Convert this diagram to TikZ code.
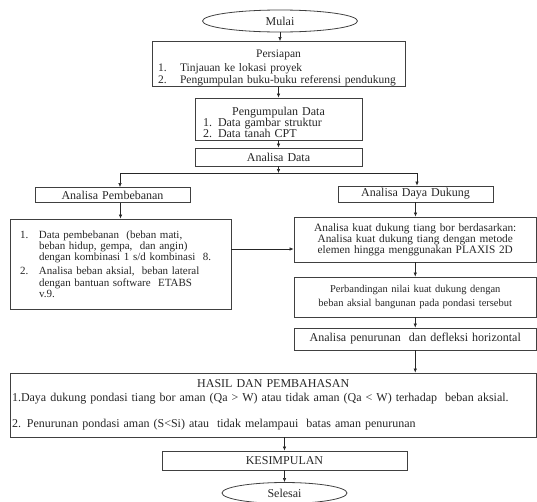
\documentclass[tikz,border=0pt]{standalone}
\usepackage{fontspec}
\setmainfont{Liberation Serif}
\usetikzlibrary{arrows.meta,shapes.geometric}

\begin{document}
\begin{tikzpicture}[x=1pt,y=-1pt,
    every node/.style={draw=black!75,line width=0.8pt,inner sep=0pt,text=black!85,
      font=\fontsize{12}{12.5}\selectfont},
    box/.style={rectangle,align=center},
    oval/.style={ellipse},
    arr/.style={-{Latex[length=4pt,width=3.5pt]},black!85,line width=0.6pt}]
    \useasboundingbox (0,0) rectangle (537,501);

    \node[oval,minimum width=155pt,minimum height=22pt] (mulai) at (280,21) {Mulai};
    \node[box,align=left,text width=253pt,minimum height=45pt,
          font=\fontsize{11.5}{12.5}\selectfont] (prep) at (278.5,64)
      {\rule{0pt}{16pt}\makebox[253pt]{Persiapan}\\[1.5pt]
       \hspace*{6pt}\makebox[22pt][l]{1.}Tinjauan ke lokasi proyek\\[-0.5pt]
       \hspace*{6pt}\makebox[22pt][l]{2.}Pengumpulan buku-buku referensi pendukung};
    \node[box,align=left,text width=167pt,minimum height=42pt] (peng) at (278.5,119)
      {\rule{0pt}{16pt}\makebox[167pt]{Pengumpulan Data}\\[-1.5pt]
       \hspace*{8pt}1. Data gambar struktur\\[-1.5pt]
       \hspace*{8pt}2. Data tanah CPT};
    \node[box,text width=167pt,minimum height=18pt] (data) at (278.5,157) {Analisa Data};

    \coordinate (sl) at (120,173);
    \coordinate (sr) at (417,173);
    \coordinate (lv) at (0,249);

    % kolom kiri
    \node[box,text width=155pt,minimum height=15pt] (pemb) at (112.5,195) {Analisa Pembebanan};
    \node[box,align=left,text width=221pt,minimum height=90pt,
          font=\fontsize{11}{12}\selectfont] (detail) at (120.5,264)
      {\hspace*{10pt}\makebox[19pt][l]{1.}Data pembebanan\ \ (beban mati,\\[-1pt]
       \hspace*{29pt}beban hidup, gempa,\ \ dan angin)\\[-1pt]
       \hspace*{29pt}dengan kombinasi 1 s/d kombinasi\ \ 8.\\[2pt]
       \hspace*{10pt}\makebox[19pt][l]{2.}Analisa beban aksial,\ \ beban lateral\\
       \hspace*{29pt}dengan bantuan software\ \ ETABS\\[-1pt]
       \hspace*{29pt}v.9.};

    % kolom kanan
    \node[box,text width=155pt,minimum height=16pt] (daya) at (415.5,194) {Analisa Daya Dukung};
    \node[box,text width=242.5pt,minimum height=45pt,
          font=\fontsize{11.3}{12}\selectfont] (kuat) at (415.25,239.5)
      {Analisa kuat dukung tiang bor berdasarkan:\\[-1pt]
       Analisa kuat dukung tiang dengan metode\\[-1pt]
       elemen hingga menggunakan PLAXIS 2D};
    \node[box,text width=242.5pt,minimum height=40pt,
          font=\fontsize{10.5}{12}\selectfont] (band) at (415.25,297)
      {Perbandingan nilai kuat dukung dengan\\[2pt]
       beban aksial bangunan pada pondasi tersebut};
    \node[box,text width=242.5pt,minimum height=22pt] (turun) at (415.25,339)
      {Analisa penurunan\ \ dan defleksi horizontal};

    \node[box,align=left,text width=526.5pt,minimum height=64pt] (hasil) at (273.25,405)
      {\makebox[526.5pt]{HASIL DAN PEMBAHASAN}\\[1.5pt]
       \hspace*{2pt}1.Daya dukung pondasi tiang bor aman (Qa > W) atau tidak aman (Qa < W) terhadap\ \ beban aksial.\\[13.5pt]
       \hspace*{2pt}2. Penurunan pondasi aman (S<Si) atau\ \ tidak melampaui\ \ batas aman penurunan};
    \node[box,text width=245pt,minimum height=19pt] (kes) at (284.5,460.5) {KESIMPULAN};
    \node[oval,minimum width=125pt,minimum height=21pt] (selesai) at (284.5,493) {Selesai};

    \draw[arr] (mulai.south) -- (mulai.south |- prep.north);
    \draw[arr] (prep) -- (peng);
    \draw[arr] (peng) -- (data);
    \draw[arr] (data.south) -- (data.south |- sl);
    \draw[black!85,line width=0.6pt] (sl) -- (sr);
    \draw[arr] (sl) -- (sl |- pemb.north);
    \draw[arr] (sr) -- (sr |- daya.north);
    \draw[arr] (detail.north |- pemb.south) -- (detail.north);
    \draw[arr] (detail.east |- lv) -- (kuat.west |- lv);
    \draw[arr] (daya.south) -- (daya.south |- kuat.north);
    \draw[arr] (kuat) -- (band);
    \draw[arr] (band) -- (turun);
    \draw[arr] (turun.south) -- (turun.south |- hasil.north);
    \draw[arr] (hasil.south -| kes.north) -- (kes.north);
    \draw[arr] (kes) -- (selesai);
\end{tikzpicture}
\end{document}
